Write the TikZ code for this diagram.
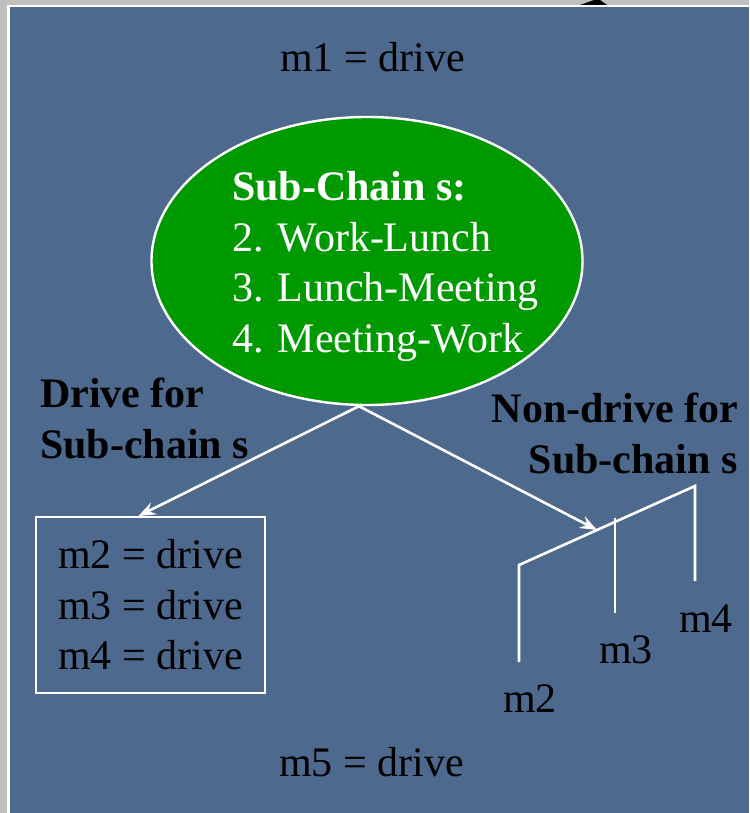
\documentclass[tikz,border=0pt]{standalone}
\usepackage{fontspec}
\setmainfont{Liberation Serif}
\usetikzlibrary{shapes.geometric}
\usetikzlibrary{arrows.meta}
\definecolor{slate}{RGB}{77,105,141}
\definecolor{chaingreen}{RGB}{0,153,0}
\definecolor{framegray}{RGB}{192,192,192}

\begin{document}
\begin{tikzpicture}
    [
    x=1pt, y=-1pt,
    every node/.style={font=\fontsize{42}{50.5}\selectfont, inner sep=0pt},
    subchain/.style={ellipse,draw=white,line width=2.4pt,fill=chaingreen,minimum width=431pt,minimum height=288pt},
    choice/.style={draw=white,line width=2pt,align=left,minimum width=229pt,minimum height=176pt},
    branch/.style={white,line width=2.6pt},
    lbl/.style={anchor=base west,align=left},
    head/.style={font=\fontsize{42}{50.5}\selectfont\bfseries}
    ]
    \fill [framegray] (0,0) rectangle (749,813);
    \fill [white] (7,5) rectangle (749,813);
    \fill [slate] (9.5,7.5) rectangle (749,813);
    \fill [black] (580,5) -- (594,0) -- (600,0) -- (607,5) -- cycle;
    \useasboundingbox (0,0) rectangle (749,813);

    \node (m1) at (280,72) [lbl] {m1 = drive};
    \node (chain) at (367,261) [subchain] {};
    \node (chaintext) at (232,352) [lbl, text=white]
      {\textbf{Sub-Chain s:}\\2. Work-Lunch\\3. Lunch-Meeting\\4. Meeting-Work};

    \node (drivehead) at (40,458) [lbl, head] {Drive for\\Sub-chain s};
    \node (nondrivehead) at (738,473) [anchor=base east, align=right, head] {Non-drive for\\Sub-chain s};

    \node (drivebox) at (150.5,605) [choice] {m2 = drive\\m3 = drive\\m4 = drive};
    \node (m5) at (279,776) [lbl] {m5 = drive};

    \coordinate (f2) at (519,565);
    \coordinate (f4) at (695,486);
    \coordinate (hit) at (597,530);
    \coordinate (leg2) at (519,662);
    \coordinate (leg3top) at (615,518);
    \coordinate (leg3) at (615,613);
    \coordinate (leg4) at (695,581);
    \draw [branch, -{Stealth[length=17pt,width=13pt,inset=6pt]}] ([xshift=-8pt]chain.south) to ([xshift=-12pt]drivebox.north);
    \draw [branch, -{Stealth[length=17pt,width=13pt,inset=6pt]}] ([xshift=-8pt]chain.south) to (hit);
    \draw [branch] (leg2) -- (f2) -- (f4) -- (leg4);
    \draw [branch] (leg3top) -- (leg3);

    \node (m2) at (503,712) [lbl] {m2};
    \node (m3) at (599,663) [lbl] {m3};
    \node (m4) at (679,632) [lbl] {m4};
  \end{tikzpicture}
\end{document}
